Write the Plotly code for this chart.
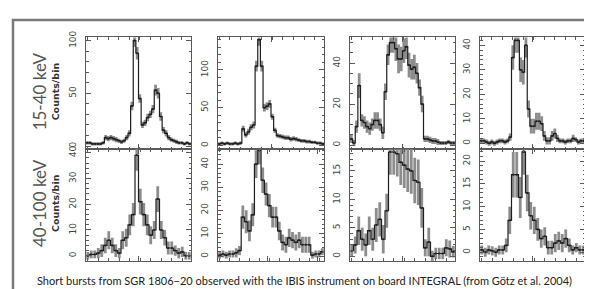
import plotly.graph_objects as go

W, H = 592, 289

# ---- data (counts per bin) ----
# top row: 15-40 keV
top1_counts = [3,3,2,2,2,2,3,8,7,8,7,6,5,4,5,8,12,38,100,88,45,20,22,27,30,35,53,50,28,15,12,8,6,5,4,3,3,2,3,2]
top1_err    = [1.5,1.5,1.5,1.5,1.5,1.5,1.5,2.5,2.5,2.5,2.5,2.5,2,2,2,2.5,3,4,6,6,4,3,3,3.5,3.5,4,5,5,4,3,3,2.5,2,2,2,1.5,1.5,1.5,1.5,1.5]
top2_counts = [2,3,2,3,2,2,3,2,3,22,14,18,24,27,105,140,105,50,52,55,38,20,13,12,11,10,10,8,9,8,7,6,6,5,5,4,4,3,3,2]
top2_err    = [2,2,2,2,2,2,2,2,2,4,3.5,4,4,4.5,7,8,7,5,5,5,4,3.5,3,3,3,3,3,3,3,3,2.5,2.5,2.5,2.5,2.5,2,2,2,2,2]
top3_counts = [3,1,9,29,12,11,9,8,10,12,12,10,6,26,44,50,50,47,42,42,46,48,39,37,38,35,28,20,3,3,2.5,2,2,1.5,1,1,1,1.5,1,1]
top3_err    = [2,1.5,3,6,3,3,3,3,3,4,4,3,3,4,5,5,5,6,7,6,6,6,6,5,6,5,4,4,1.5,1.5,1.5,1.5,1.5,1.5,1,1,1,1,1,1]
top4_counts = [1,1,0.5,0,0.5,0,0.5,1,1,0.5,1,2.5,35,42,42,30,29,40,14,7,7,9,9,8,3,1,1,3,4,2,1,1,0.5,1,1,2,1.5,0.5,1,1]
top4_err    = [1,1,1,1,1,1,1,1,1,1,1,1.5,5,5,5,5,5,5,3.5,3,3,3.5,3.5,3,2,1.5,1.5,2,2,1.5,1,1,1,1,1,1.5,1,1,1,1]
# bottom row: 40-100 keV
bot1_counts = [0,0.5,0.5,1,2,4,6,4,2,1,6,7,12,16,39,21,16,12,8,10,22,10,7,3,3,2,1,1.5,0,0]
bot1_err    = [1.5,1.5,1.5,2,2.5,3,3.5,3,2.5,2,3.5,3.5,4,4.5,6,5,4.5,4,3.5,3.5,5,3.5,3,2.5,2.5,2,2,2,1.5,1.5]
bot2_counts = [0.5,1,0.5,1,1,1.5,2.5,17,15,11,18,40,46,33,27,22,17,17,11,6,5,8,7,6,7,5,5,5,0.5,1,1,2]
bot2_err    = [1.5,1.5,1.5,1.5,1.5,2,2,5,5,4.5,5,6,6,5.5,5,5,4.5,4.5,4,3.5,3.5,4,3.5,3.5,3.5,3.5,3.5,3.5,1.5,1.5,1.5,1.5]
bot3_counts = [1,2,4.5,3,2,4.5,3,5.5,6.5,3,8,18.3,18.3,18,16.5,16,15.3,15,13.3,13,8.5,1.5,2.5,0,0.5,0.5,0.5,1.5,1.3,0.8]
bot3_err    = [1,1.5,2.5,2,2,2.5,2,3,3,2.5,3,4,4,4,4,4,4,4,4,4,3.5,1.5,2.5,1,1,1,1,1.5,1.5,1]
bot4_counts = [0.5,0,0.5,0.3,0,0.5,0.5,1.5,7,17,17,12,22,13,8,7,5,3,3.5,1,1,2,2.5,2,3,1.5,0.5,1,0.5,0.5]
bot4_err    = [1,1,1,1,1,1,1,1.5,3,5,5,4.5,5,4,3,3,2.5,2,2,1.5,1.5,2,2,2,2,1.5,1,1,1,1]

row_labels = ["15-40 keV", "40-100 keV"]
ylabel = "Counts/bin"
caption = "Short bursts from SGR 1806\u221220 observed with the IBIS instrument on board INTEGRAL (from G\u00f6tz et al. 2004)"

panels = [
    (top1_counts, top1_err, [-3, 103], 50, 10),
    (top2_counts, top2_err, [-5, 143], 50, 10),
    (top3_counts, top3_err, [-2, 52.5], 20, 5),
    (top4_counts, top4_err, [-2.4, 43.2], 10, 2),
    (bot1_counts, bot1_err, [-2, 41.4], 10, 2),
    (bot2_counts, bot2_err, [-2, 46.5], 10, 2),
    (bot3_counts, bot3_err, [-0.8, 18.8], 5, 1),
    (bot4_counts, bot4_err, [-1.9, 22.6], 5, 1),
]

# ---- layout geometry (pixels) ----
col_px = [(78, 183), (210, 316), (342, 447), (472, 577)]
row_px = [(23, 137.5), (137.5, 252)]

fig = go.Figure()
AX = "#5a5a5a"
layout = dict(
    width=W, height=H, margin=dict(l=0, r=0, t=0, b=0),
    paper_bgcolor="white", plot_bgcolor="white", showlegend=False,
)

for k, (vals, errs, yr, ymaj, ymin) in enumerate(panels):
    idx = k + 1
    r, c = divmod(k, 4)
    n = len(vals)
    centers = list(range(n))
    edges = [i - 0.5 for i in range(n + 1)]
    xs = "x" if idx == 1 else f"x{idx}"
    ys = "y" if idx == 1 else f"y{idx}"
    # error bars (gray, thick)
    fig.add_trace(go.Scatter(
        x=centers, y=vals, mode="markers", xaxis=xs, yaxis=ys,
        marker=dict(size=2, color="#222"),
        error_y=dict(type="data", array=errs, visible=True, thickness=2.8,
                     width=0, color="#8c8c8c"),
        hoverinfo="skip"))
    # histogram step line
    fig.add_trace(go.Scatter(
        x=edges, y=vals + [vals[-1]], mode="lines", line_shape="hv",
        xaxis=xs, yaxis=ys, line=dict(color="#1e1e1e", width=1.2),
        hoverinfo="skip"))
    x0, x1 = col_px[c]
    y0, y1 = row_px[r]
    xdt = 20 if n >= 36 else 15
    xmn = 4 if n >= 36 else 3
    layout[f"xaxis{'' if idx == 1 else idx}"] = dict(
        domain=[x0 / W, x1 / W], anchor=ys, range=[-0.5, n - 0.5],
        showgrid=False, zeroline=False, showline=True, linecolor=AX, linewidth=1,
        mirror="allticks", ticks="inside", ticklen=5, tickcolor=AX,
        tick0=-0.5, dtick=xdt, showticklabels=False,
        minor=dict(ticks="inside", ticklen=2.5, dtick=xmn, tickcolor=AX, showgrid=False))
    layout[f"yaxis{'' if idx == 1 else idx}"] = dict(
        domain=[1 - y1 / H, 1 - y0 / H], anchor=xs, range=yr,
        showgrid=False, zeroline=False, showline=True, linecolor=AX, linewidth=1,
        mirror="allticks", ticks="inside", ticklen=5, tickcolor=AX,
        tick0=0, dtick=ymaj, tickangle=-90, ticklabelstandoff=5,
        tickfont=dict(family="DejaVu Sans", size=9, color="#444"),
        minor=dict(ticks="inside", ticklen=2.5, dtick=ymin, tickcolor=AX, showgrid=False))

fig.update_layout(**layout)

annots = []
for r, lab in enumerate(row_labels):
    yc = (row_px[r][0] + row_px[r][1]) / 2 - 2
    annots.append(dict(xref="paper", yref="paper", x=31 / W, y=1 - yc / H,
                       text=lab, showarrow=False, textangle=-90,
                       font=dict(family="Lato", size=17, color="#555"),
                       xanchor="center", yanchor="middle"))
    annots.append(dict(xref="paper", yref="paper", x=47 / W, y=1 - yc / H,
                       text=f"<b>{ylabel}</b>", showarrow=False, textangle=-90,
                       font=dict(family="DejaVu Sans", size=9.5, color="#333"),
                       xanchor="center", yanchor="middle"))
annots.append(dict(xref="paper", yref="paper", x=296 / W, y=1 - 272 / H,
                   text=caption, showarrow=False,
                   font=dict(family="Lato", size=11, color="#222"),
                   xanchor="center", yanchor="middle"))
fig.update_layout(annotations=annots)

fig.update_layout(shapes=[
    dict(type="rect", xref="paper", yref="paper",
         x0=5 / W, x1=589 / W, y0=1 - 287 / H, y1=1 - 5 / H,
         line=dict(color="#7a7a7a", width=2.5), layer="below"),
])

fig.write_html("out.html")
